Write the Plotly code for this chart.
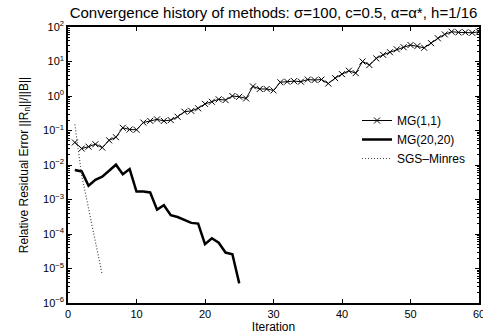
import plotly.graph_objects as go

# Residual histories of the three solvers
mg11_iter = list(range(1, 61))
mg11_res = [0.045, 0.030, 0.034, 0.040, 0.032, 0.052, 0.064, 0.12, 0.107, 0.105,
            0.17, 0.19, 0.21, 0.19, 0.20, 0.25, 0.35, 0.37, 0.44, 0.59,
            0.68, 0.80, 0.76, 1.0, 0.95, 0.85, 1.9, 1.6, 1.6, 1.45,
            2.5, 2.6, 2.7, 2.6, 3.0, 2.9, 3.0, 2.3, 3.3, 4.3,
            5.4, 4.6, 10.0, 7.9, 12.3, 15.6, 18.6, 22.5, 25.9, 30.0,
            28.0, 25.0, 34.0, 47.0, 61.0, 73.0, 70.0, 70.0, 68.0, 73.0]

mg2020_iter = list(range(1, 26))
mg2020_res = [7.2e-3, 6.5e-3, 2.5e-3, 3.7e-3, 4.6e-3, 6.9e-3, 1.02e-2, 5.4e-3, 7.6e-3, 1.7e-3,
              1.7e-3, 1.6e-3, 5.1e-4, 6.8e-4, 3.5e-4, 3.1e-4, 2.6e-4, 2.1e-4, 2.0e-4, 5.1e-5,
              7.5e-5, 5.6e-5, 2.9e-5, 2.6e-5, 3.7e-6]

sgs_iter = [1, 2, 3, 4, 5]
sgs_res = [0.15, 5.0e-3, 5.5e-4, 6.0e-5, 6.5e-6]

x_ticks = [0, 10, 20, 30, 40, 50, 60]
y_exps = [-6, -5, -4, -3, -2, -1, 0, 1, 2]

FONT = "Liberation Sans, Arial, Helvetica, sans-serif"

# minor ticks at 2..9 within every decade of the log axis
minor_vals = [m * 10.0 ** e for e in y_exps[:-1] for m in range(2, 10)]

fig = go.Figure()
fig.add_trace(go.Scatter(
    x=mg11_iter, y=mg11_res, mode="lines+markers", name="MG(1,1)",
    line=dict(color="black", width=1),
    marker=dict(symbol="x-thin", size=6, line=dict(color="black", width=1)),
))
fig.add_trace(go.Scatter(
    x=mg2020_iter, y=mg2020_res, mode="lines", name="MG(20,20)",
    line=dict(color="black", width=2.5),
))
fig.add_trace(go.Scatter(
    x=sgs_iter, y=sgs_res, mode="lines", name="SGS\u2013Minres",
    line=dict(color="#444444", width=1.2, dash="1px,2px"),
))

fig.update_layout(
    width=483, height=334,
    margin=dict(l=68, r=4, t=27, b=31),
    paper_bgcolor="white", plot_bgcolor="white",
    font=dict(family=FONT, size=11, color="black"),
    title=dict(
        text="Convergence history of methods: \u03c3=100, c=0.5, \u03b1=\u03b1*, h=1/16",
        xref="paper", x=0.5, xanchor="center",
        yref="container", y=1 - 13 / 334, yanchor="middle",
        font=dict(size=15, family=FONT),
    ),
    showlegend=True,
    legend=dict(
        x=(357 - 68) / 411, xanchor="left", y=1 - (106 - 27) / 276, yanchor="top",
        bgcolor="rgba(0,0,0,0)", font=dict(size=12, family=FONT),
        itemwidth=30, tracegroupgap=0,
    ),
)

fig.update_xaxes(
    range=[0, 60], tickvals=x_ticks, ticktext=[str(v) for v in x_ticks],
    ticks="inside", ticklen=4, tickwidth=1, tickcolor="black",
    showline=True, linecolor="black", linewidth=1.5, mirror="ticks",
    showgrid=False, zeroline=False, automargin=False,
    ticklabeloverflow="allow",
    title=dict(text="Iteration", font=dict(size=12, family=FONT), standoff=4),
    tickfont=dict(size=11),
)
fig.update_yaxes(
    type="log", range=[-6, 2],
    tickvals=[10.0 ** e for e in y_exps],
    ticktext=["10<sup>%s</sup>" % str(e).replace("-", "\u2212") for e in y_exps],
    ticks="inside", ticklen=4, tickwidth=1, tickcolor="black",
    minor=dict(ticks="inside", ticklen=2, tickwidth=1, tickcolor="black",
               tickmode="array", tickvals=minor_vals, showgrid=False),
    showline=True, linecolor="black", linewidth=1.5, mirror="ticks",
    showgrid=False, zeroline=False, automargin=False,
    ticklabeloverflow="allow",
    title=dict(text="Relative Residual Error ||R<sub>n</sub>||/||B||",
               font=dict(size=12, family=FONT), standoff=12),
    tickfont=dict(size=11),
)

fig.write_html("out.html")
